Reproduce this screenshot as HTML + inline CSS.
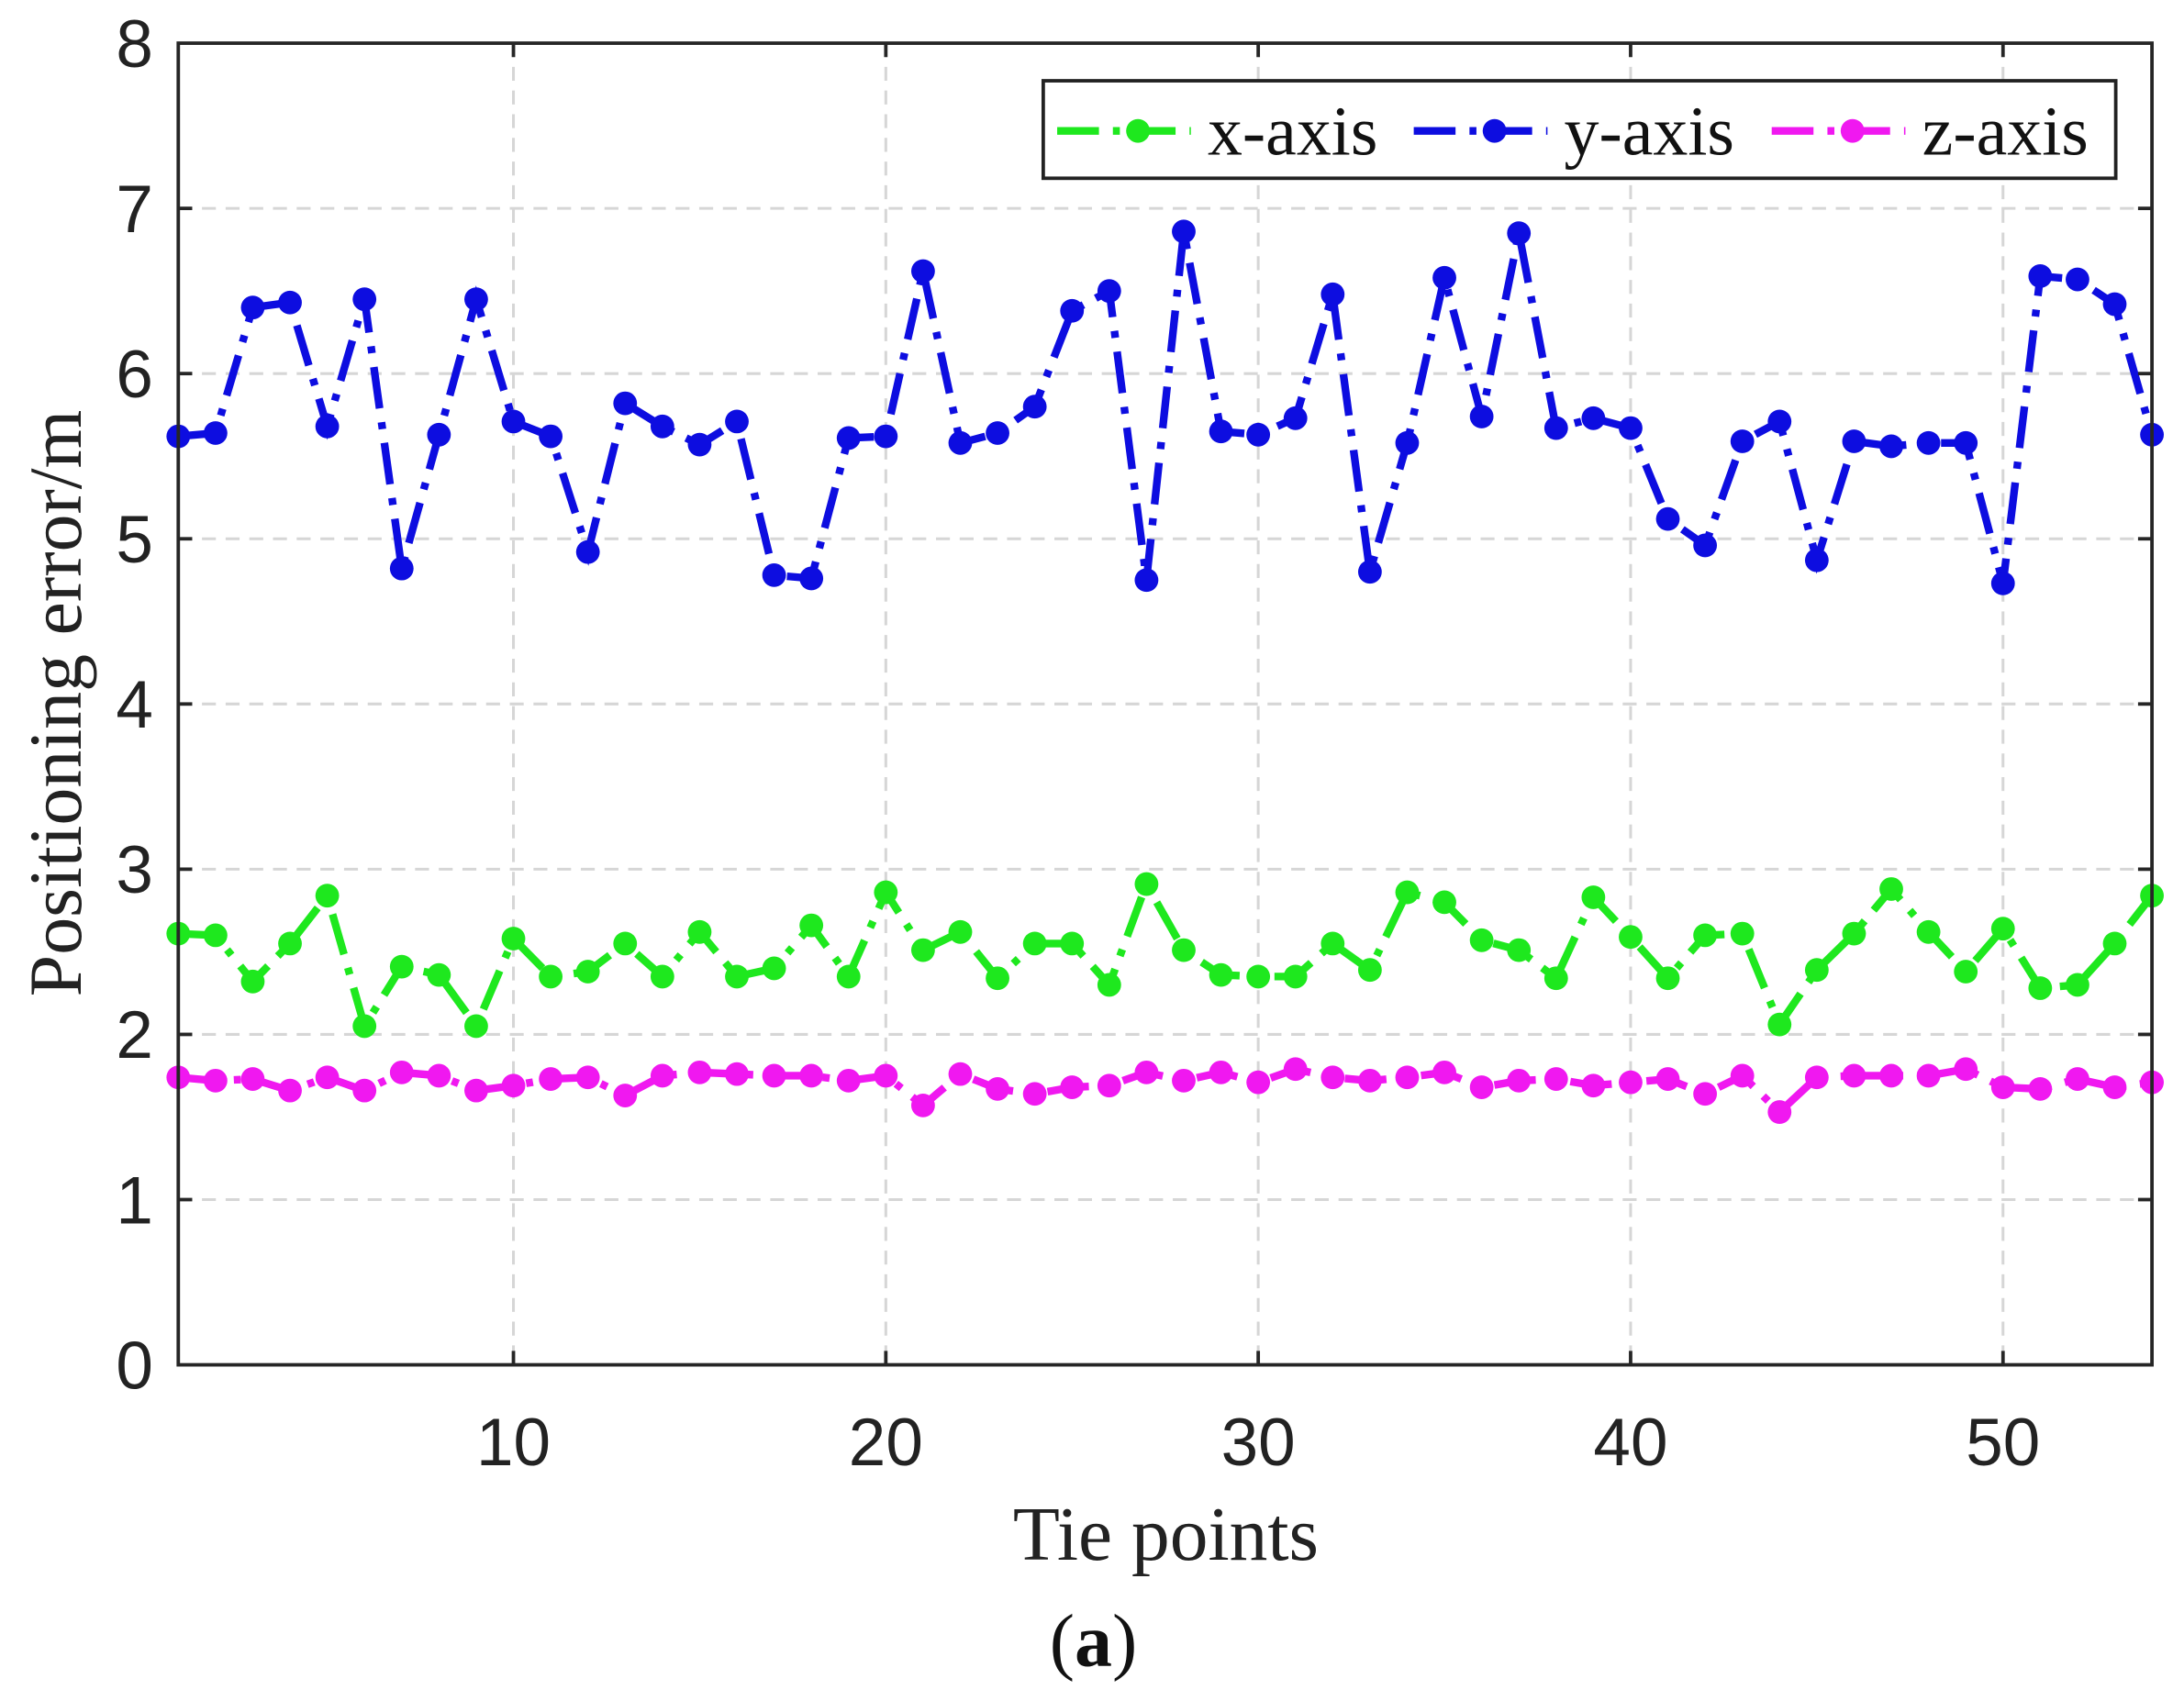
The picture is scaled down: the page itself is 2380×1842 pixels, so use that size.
<!DOCTYPE html>
<html><head><meta charset="utf-8"><style>
html,body{margin:0;padding:0;background:#fff;}
svg{display:block;}
</style></head><body>
<svg id="s" width="2380" height="1842" viewBox="0 0 1568 1213.5" preserveAspectRatio="none" xmlns="http://www.w3.org/2000/svg">
<rect width="1568" height="1213.5" fill="#fff"/>
<g id="grid"></g>
<g id="series"></g>
<g id="axes"></g>
<text x="837" y="1120" font-family="Liberation Serif, serif" font-size="55" text-anchor="middle" fill="#222">Tie points</text>
<text x="785" y="1196" font-family="Liberation Serif, serif" font-size="54" text-anchor="middle" fill="#111">(<tspan font-weight="bold">a</tspan>)</text>
<text transform="translate(58,505) rotate(-90)" font-family="Liberation Serif, serif" font-size="54" text-anchor="middle" fill="#222">Positioning error/m</text>
<g id="legend">
<rect x="749" y="58" width="770" height="70" fill="#fff" stroke="#222" stroke-width="2.5"/>
</g>
</svg>
<script>
const L=128,R=1545,T=31,B=980;
const X=v=>L+(v-1)*(R-L)/53, Y=v=>B-v*(B-T)/8;
const ns="http://www.w3.org/2000/svg";
function el(p,t,a){const e=document.createElementNS(ns,t);for(const k in a)e.setAttribute(k,a[k]);document.getElementById(p).appendChild(e);return e;}
for(let i=1;i<=7;i++)el("grid","line",{x1:L,x2:R,y1:Y(i),y2:Y(i),stroke:"#d6d6d6","stroke-width":2,"stroke-dasharray":"10,7"});
for(let i=10;i<=50;i+=10)el("grid","line",{x1:X(i),x2:X(i),y1:T,y2:B,stroke:"#d6d6d6","stroke-width":2,"stroke-dasharray":"10,7"});
const yv=[5.62,5.64,6.40,6.43,5.68,6.45,4.82,5.63,6.45,5.71,5.62,4.92,5.82,5.68,5.57,5.71,4.78,4.76,5.61,5.62,6.62,5.58,5.64,5.80,6.38,6.50,4.75,6.86,5.65,5.63,5.73,6.48,4.80,5.58,6.58,5.74,6.85,5.67,5.73,5.67,5.12,4.96,5.59,5.71,4.87,5.59,5.56,5.58,5.58,4.73,6.59,6.57,6.42,5.63];
const xv=[2.61,2.60,2.32,2.55,2.84,2.05,2.41,2.36,2.05,2.58,2.35,2.38,2.55,2.35,2.62,2.35,2.40,2.66,2.35,2.86,2.51,2.62,2.34,2.55,2.55,2.30,2.91,2.51,2.36,2.35,2.35,2.55,2.39,2.86,2.80,2.57,2.51,2.34,2.83,2.59,2.34,2.60,2.61,2.06,2.39,2.61,2.88,2.62,2.38,2.64,2.28,2.30,2.55,2.84];
const zv=[1.74,1.72,1.73,1.66,1.74,1.66,1.77,1.75,1.66,1.69,1.73,1.74,1.63,1.75,1.77,1.76,1.75,1.75,1.72,1.75,1.57,1.76,1.67,1.64,1.68,1.69,1.77,1.72,1.77,1.71,1.79,1.74,1.72,1.74,1.77,1.68,1.72,1.73,1.69,1.71,1.73,1.64,1.75,1.53,1.74,1.75,1.75,1.75,1.79,1.68,1.67,1.73,1.68,1.71];
const dash="30,10,5,10";
function series(d,c){
  const pts=d.map((v,i)=>X(i+1).toFixed(1)+","+Y(v).toFixed(1)).join(" ");
  el("series","polyline",{points:pts,fill:"none",stroke:c,"stroke-width":5.5,"stroke-dasharray":dash});
  d.forEach((v,i)=>el("series","circle",{cx:X(i+1),cy:Y(v),r:8.5,fill:c}));
}
const G="#1ee81e",Bc="#0d0de0",M="#f018f0";
series(xv,G);series(yv,Bc);series(zv,M);
el("axes","rect",{x:L,y:T,width:R-L,height:B-T,fill:"none",stroke:"#262626","stroke-width":2.5});
for(let i=0;i<=8;i++){
  if(i>0&&i<8){el("axes","line",{x1:L,x2:L+10,y1:Y(i),y2:Y(i),stroke:"#262626","stroke-width":2.5});el("axes","line",{x1:R,x2:R-10,y1:Y(i),y2:Y(i),stroke:"#262626","stroke-width":2.5});}
  const t=el("axes","text",{x:110,y:Y(i)+17,"font-family":"Liberation Sans, sans-serif","font-size":48,"text-anchor":"end",fill:"#222"});t.textContent=i;
}
for(let i=10;i<=50;i+=10){
  el("axes","line",{x1:X(i),x2:X(i),y1:B,y2:B-10,stroke:"#262626","stroke-width":2.5});
  el("axes","line",{x1:X(i),x2:X(i),y1:T,y2:T+10,stroke:"#262626","stroke-width":2.5});
  const t=el("axes","text",{x:X(i),y:1052,"font-family":"Liberation Sans, sans-serif","font-size":48,"text-anchor":"middle",fill:"#222"});t.textContent=i;
}
const items=[[759,G,"x-axis"],[1015,Bc,"y-axis"],[1272,M,"z-axis"]];
items.forEach(([x,c,s])=>{
  el("legend","line",{x1:x,x2:x+96,y1:94,y2:94,stroke:c,"stroke-width":5.5,"stroke-dasharray":"30,10,5,10"});
  el("legend","circle",{cx:x+58,cy:94,r:8.5,fill:c});
  const t=el("legend","text",{x:x+108,y:111,"font-family":"Liberation Serif, serif","font-size":50,fill:"#111"});t.textContent=s;
});
</script>
</body></html>
